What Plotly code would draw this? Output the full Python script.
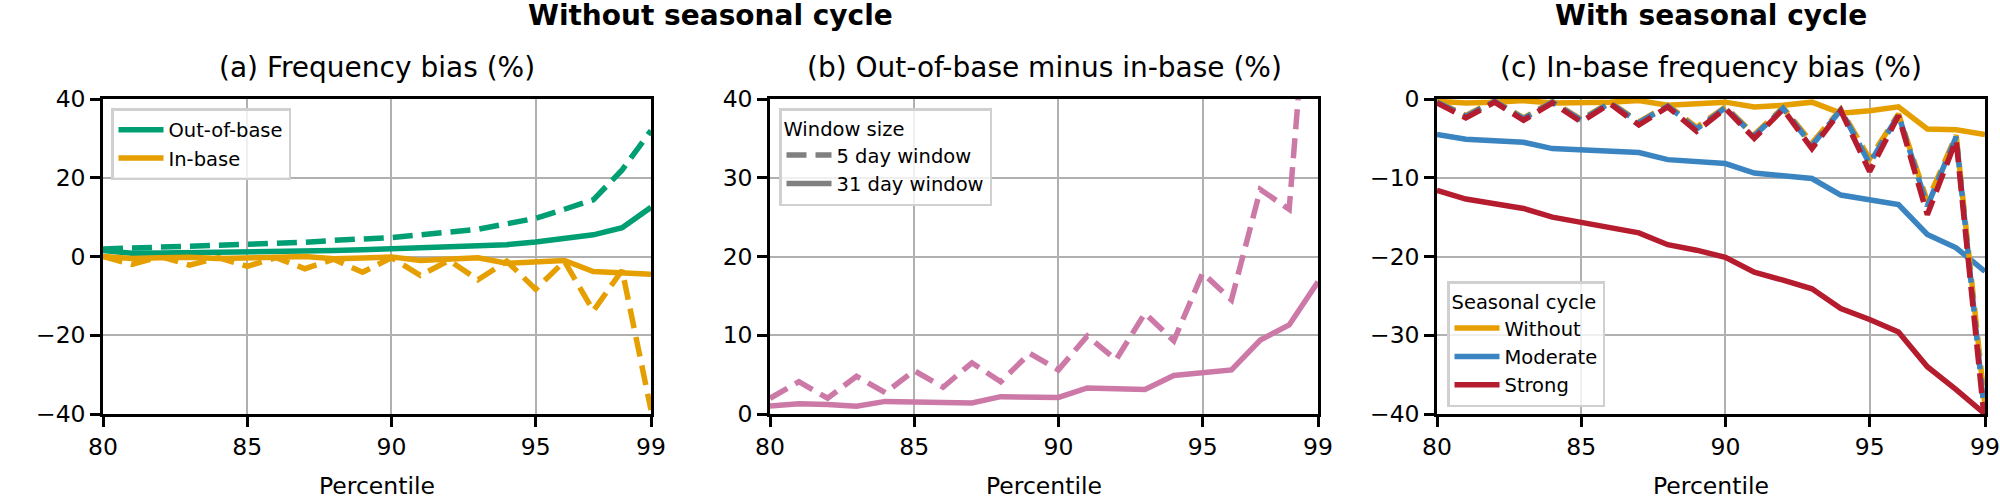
import plotly.graph_objects as go

# ---------------- data ----------------
percentile = list(range(80, 100))
x_ticks = [80, 85, 90, 95, 99]

# (a) Frequency bias (%)
out_base_31 = [1.5, 0.8, 0.9, 1.0, 0.8, 0.9, 1.1, 1.3, 1.5, 1.7, 1.9, 2.1, 2.3, 2.6, 3.0, 3.7, 4.5, 5.5, 7.3, 12.5]
out_base_5 = [1.9, 2.1, 2.4, 2.5, 2.8, 3.0, 3.4, 3.6, 4.1, 4.4, 4.8, 5.5, 6.3, 6.9, 8.3, 9.7, 12.0, 14.4, 22.0, 32.0]
in_base_31 = [0.0, -0.5, -0.3, -0.2, -0.5, -0.5, -0.2, 0.0, -0.6, -0.4, -0.1, -1.0, -0.8, -0.3, -1.7, -1.5, -1.0, -3.8, -4.0, -4.5]
in_base_5 = [0.0, -2.0, 0.0, -2.2, -0.3, -2.5, -0.3, -3.1, -0.7, -4.0, -0.3, -4.8, -1.0, -5.9, -1.2, -8.3, -1.2, -13.8, -3.5, -39.0]

# (b) Out-of-base minus in-base (%)
diff_5 = [2.0, 4.1, 2.0, 4.8, 2.7, 5.5, 3.4, 6.5, 4.1, 7.7, 5.6, 9.9, 6.9, 12.8, 9.3, 17.9, 14.5, 28.5, 26.0, 71.0]
diff_31 = [1.0, 1.3, 1.2, 1.0, 1.6, 1.5, 1.5, 1.4, 2.2, 2.2, 2.1, 3.3, 3.2, 3.1, 4.9, 5.2, 5.6, 9.4, 11.3, 16.8]

# (c) In-base frequency bias (%)
without_31 = [-0.3, -0.5, -0.4, -0.2, -0.5, -0.5, -0.4, -0.2, -0.8, -0.6, -0.4, -1.0, -0.8, -0.4, -1.8, -1.5, -1.0, -3.8, -3.9, -4.5]
moderate_31 = [-4.5, -5.1, -5.3, -5.5, -6.3, -6.5, -6.6, -6.8, -7.7, -8.0, -8.2, -9.4, -9.7, -10.1, -12.2, -12.8, -13.4, -17.2, -18.9, -21.9]
strong_31 = [-11.6, -12.7, -13.3, -13.9, -15.0, -15.7, -16.4, -17.0, -18.5, -19.2, -20.1, -22.0, -23.0, -24.1, -26.6, -28.0, -29.6, -34.0, -36.9, -40.0]
without_5 = [-0.3, -2.1, -0.2, -2.4, -0.3, -2.6, -0.4, -2.9, -0.8, -3.6, -1.0, -4.5, -1.1, -5.6, -1.3, -7.6, -1.9, -13.0, -4.6, -39.0]
moderate_5 = [-0.4, -2.2, -0.3, -2.5, -0.4, -2.7, -0.5, -3.0, -0.9, -3.8, -1.1, -4.7, -1.2, -5.9, -1.4, -8.2, -2.0, -13.6, -4.8, -40.5]
strong_5 = [-0.5, -2.4, -0.4, -2.7, -0.5, -2.9, -0.6, -3.3, -1.0, -4.1, -1.2, -5.0, -1.3, -6.3, -1.5, -9.2, -2.1, -14.7, -5.2, -41.5]

# ---------------- style ----------------
GREEN = "#009E73"
ORANGE = "#E69F00"
PINK = "#CC79A7"
BLUE = "#3A85C1"
RED = "#B51C2E"
GRAY = "#808080"
LW = 5.5
DASH = "20px,9px"
FONT = "DejaVu Sans"
FS_TICK = 23.5
FS_LEG = 19.5
FS_TITLE = 28

fig = go.Figure()

def line(x, y, color, dash, ax, name=None, legend=None, show=False):
    fig.add_trace(go.Scatter(
        x=x, y=y, mode="lines", name=name,
        line=dict(color=color, width=LW, dash=dash),
        xaxis="x" + ax, yaxis="y" + ax,
        showlegend=show, legend=legend, hoverinfo="skip"))

# panel a
line(percentile, out_base_5, GREEN, DASH, "")
line(percentile, in_base_5, ORANGE, DASH, "")
line(percentile, out_base_31, GREEN, "solid", "", "Out-of-base", "legend", True)
line(percentile, in_base_31, ORANGE, "solid", "", "In-base", "legend", True)

# panel b
line(percentile, diff_5, PINK, DASH, "2")
line(percentile, diff_31, PINK, "solid", "2")
line([None], [None], GRAY, DASH, "2", "5 day window", "legend2", True)
line([None], [None], GRAY, "solid", "2", "31 day window", "legend2", True)

# panel c
line(percentile, without_31, ORANGE, "solid", "3", "Without", "legend3", True)
line(percentile, moderate_31, BLUE, "solid", "3", "Moderate", "legend3", True)
line(percentile, strong_31, RED, "solid", "3", "Strong", "legend3", True)
line(percentile, without_5, ORANGE, DASH, "3")
line(percentile, moderate_5, BLUE, DASH, "3")
line(percentile, strong_5, RED, DASH, "3")

W, H = 2000, 500
top, bottom = 99, 414
dom_y = [1 - bottom / H, 1 - top / H]
panels = [(103, 651), (770, 1318), (1437, 1985)]

axis_common = dict(
    showline=True, mirror=True, linecolor="black", linewidth=2.5,
    showgrid=True, gridcolor="#b0b0b0", gridwidth=2.2,
    ticks="outside", ticklen=10, tickwidth=2.5, tickcolor="black",
    tickfont=dict(family=FONT, size=FS_TICK, color="black"),
    zeroline=False, automargin=False,
)

yranges = [([-40, 40], [-40, -20, 0, 20, 40]),
           ([0, 40], [0, 10, 20, 30, 40]),
           ([-40, 0], [-40, -30, -20, -10, 0])]

layout = dict(
    width=W, height=H,
    margin=dict(l=0, r=0, t=0, b=0),
    paper_bgcolor="white", plot_bgcolor="white",
    font=dict(family=FONT, size=FS_TICK, color="black"),
)
for i, ((l, r), (yr, yt)) in enumerate(zip(panels, yranges)):
    s = "" if i == 0 else str(i + 1)
    layout["xaxis" + s] = dict(axis_common, domain=[l / W, r / W], range=[80, 99],
                               tickvals=x_ticks, anchor="y" + s)
    layout["yaxis" + s] = dict(axis_common, domain=dom_y, range=yr,
                               tickvals=yt, anchor="x" + s)

legend_common = dict(
    bgcolor="rgba(255,255,255,0.8)", bordercolor="#d0d0d0", borderwidth=2.5,
    font=dict(family=FONT, size=FS_LEG, color="black"),
    itemwidth=45, tracegroupgap=0, xanchor="left",
)
layout["legend"] = dict(legend_common, x=111 / W, y=1 - 108 / H, yanchor="top")
layout["legend2"] = dict(legend_common, x=779 / W, y=1 - 108 / H, yanchor="top",
                         title=dict(text="Window size", font=dict(family=FONT, size=FS_LEG)))
layout["legend3"] = dict(legend_common, x=1447 / W, y=1 - 407 / H, yanchor="bottom",
                         title=dict(text="Seasonal cycle", font=dict(family=FONT, size=FS_LEG)))

fig.update_layout(**layout)

ann = []
subtitles = ["(a) Frequency bias (%)", "(b) Out-of-base minus in-base (%)",
             "(c) In-base frequency bias (%)"]
for (l, r), t in zip(panels, subtitles):
    ann.append(dict(text=t, x=(l + r) / 2 / W, y=1 - 67 / H, xref="paper", yref="paper",
                    xanchor="center", yanchor="middle", showarrow=False,
                    font=dict(family=FONT, size=FS_TITLE, color="black")))
    ann.append(dict(text="Percentile", x=(l + r) / 2 / W, y=1 - 486 / H, xref="paper", yref="paper",
                    xanchor="center", yanchor="middle", showarrow=False,
                    font=dict(family=FONT, size=FS_TICK, color="black")))
ann.append(dict(text="<b>Without seasonal cycle</b>", x=(panels[0][0] + panels[1][1]) / 2 / W,
                y=1 - 15 / H, xref="paper", yref="paper", xanchor="center", yanchor="middle",
                showarrow=False, font=dict(family=FONT, size=FS_TITLE, color="black")))
ann.append(dict(text="<b>With seasonal cycle</b>", x=(panels[2][0] + panels[2][1]) / 2 / W,
                y=1 - 15 / H, xref="paper", yref="paper", xanchor="center", yanchor="middle",
                showarrow=False, font=dict(family=FONT, size=FS_TITLE, color="black")))
fig.update_layout(annotations=ann)

fig.write_html(
    "out.html",
    config={"displayModeBar": False},
    post_script="document.body.style.margin='0';document.body.style.overflow='hidden';",
)
